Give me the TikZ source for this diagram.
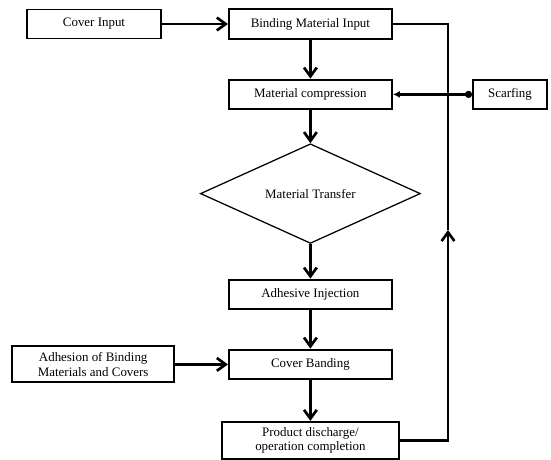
\documentclass[tikz,border=0pt]{standalone}
\usepackage{fontspec}
\setmainfont{Liberation Serif}
\usetikzlibrary{arrows.meta,positioning,shapes.geometric}
\tikzset{
  procBox/.style={draw, line width=1.4pt, minimum width=4.075cm, minimum height=0.74cm, align=center, inner sep=2pt, font=\fontsize{9.2}{10.6}\selectfont},
  decisionBox/.style={draw, diamond, line width=0.9pt, minimum width=5.5cm, minimum height=2.125cm, inner sep=0pt, font=\fontsize{9.2}{10.6}\selectfont},
  flowArrow/.style={-{Straight Barb[length=2.2mm,width=3.2mm]}, line width=1.9pt},
  flowLine/.style={line width=1.9pt}
}

\begin{document}
\begin{tikzpicture}[x=1cm,y=1cm]
  \useasboundingbox (0,0) rectangle (13.775,-11.5);
  \node[procBox, minimum width=3.35cm, minimum height=0.725cm] (cover) at (2.35,-0.6) {Cover Input};
  \node[procBox] (bind) at (7.76,-0.6) {Binding Material Input};
  \node[procBox] (comp) at (7.76,-2.36) {Material compression};
  \node[procBox, minimum width=1.85cm, minimum height=0.725cm] (scarf) at (12.75,-2.36) {Scarfing};
  \node[decisionBox] (transfer) at (7.76,-4.84) {Material Transfer};
  \node[procBox] (inject) at (7.76,-7.36) {Adhesive Injection};
  \node[procBox] (band) at (7.76,-9.11) {Cover Banding};
  \node[procBox, minimum width=4.05cm, minimum height=0.9cm] (adhere) at (2.33,-9.11) {Adhesion of Binding\\Materials and Covers};
  \node[procBox, minimum width=4.425cm, minimum height=0.925cm] (done) at (7.76,-11.01) {Product discharge/\\operation completion};
  \coordinate (loopUp) at (11.2,-5.75);

  \draw[flowArrow] (cover) -- (bind);
  \draw[flowArrow] (bind) -- (comp);
  \draw[flowArrow] (comp) -- (transfer);
  \draw[flowArrow] (transfer) -- (inject);
  \draw[flowArrow] (inject) -- (band);
  \draw[flowArrow] (adhere) -- (band);
  \draw[flowArrow] (band) -- (done);
  \draw[flowArrow] (done.east) -| (loopUp);
  \draw[flowLine] (loopUp) |- (bind.east);
  \draw[flowLine, {Circle[length=5pt]}-{Latex[length=5pt,width=5pt]}] (scarf) -- (comp);
\end{tikzpicture}
\end{document}
